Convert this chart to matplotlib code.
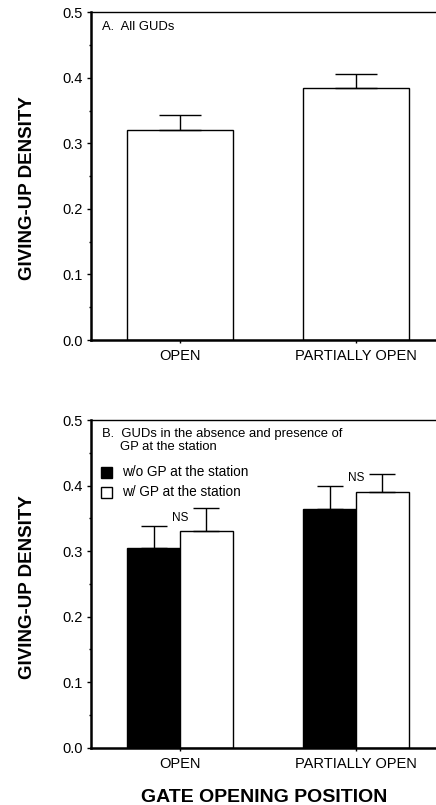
import matplotlib
matplotlib.use("Agg")
import matplotlib.pyplot as plt
from matplotlib.ticker import MultipleLocator
from matplotlib.patches import Rectangle

plt.rcParams['font.family'] = ['Liberation Sans', 'DejaVu Sans']

categories = ["OPEN", "PARTIALLY OPEN"]
# Panel A: all GUDs
a_means = [0.320, 0.384]
a_err = [0.024, 0.022]
# Panel B: without / with GP at the station
b_without = [0.304, 0.364]
b_without_err = [0.034, 0.035]
b_with = [0.331, 0.390]
b_with_err = [0.034, 0.027]
series_labels = ["w/o GP at the station", "w/ GP at the station"]
yticks = [0.0, 0.1, 0.2, 0.3, 0.4, 0.5]
ytick_labels = ["0.0", "0.1", "0.2", "0.3", "0.4", "0.5"]

W, H = 436, 805
fig = plt.figure(figsize=(W / 100, H / 100), dpi=100)

left = 91 / W
right_px = 445
axw = (right_px - 91) / W
axA = fig.add_axes([left, 1 - 340 / H, axw, (340 - 12.3) / H])
axB = fig.add_axes([left, 1 - 747.7 / H, axw, (747.7 - 420) / H])

x = [0, 1]

def style(ax, label_y):
    ax.set_ylim(0, 0.5)
    ax.set_xlim(-0.506, 1.506)
    ax.set_yticks(yticks)
    ax.set_yticklabels(ytick_labels, fontsize=10.5)
    ax.yaxis.set_minor_locator(MultipleLocator(0.05))
    ax.set_xticks(x)
    ax.set_xticklabels(categories, fontsize=10.5)
    ax.tick_params(axis='y', which='major', length=3, width=1, direction='out', pad=3)
    ax.tick_params(axis='y', which='minor', length=1.5, width=1, direction='out')
    ax.tick_params(axis='x', which='major', length=2.5, width=1, direction='out', pad=4)
    ax.spines['left'].set_linewidth(1.8)
    ax.spines['bottom'].set_linewidth(1.8)
    ax.spines['top'].set_linewidth(1.0)
    ax.spines['right'].set_visible(False)
    ax.set_ylabel("GIVING-UP DENSITY", fontsize=13.5, fontweight='bold')
    ax.yaxis.set_label_coords(-0.154, label_y)

# Panel A
axA.bar(x, a_means, width=0.6, color='white', edgecolor='black', linewidth=1.0, zorder=2)
axA.errorbar(x, a_means, yerr=[[0, 0], a_err], fmt='none', ecolor='black',
             elinewidth=1.0, capsize=21.5 * 0.72, capthick=1.0, zorder=3)
style(axA, 0.465)
axA.text(0.030, 0.954, "A.  All GUDs", transform=axA.transAxes, fontsize=9.4,
         ha='left', va='center')

# Panel B
bw = 0.3
xb_without = [xi - bw / 2 for xi in x]
xb_with = [xi + bw / 2 for xi in x]
axB.bar(xb_without, b_without, width=bw, color='black', edgecolor='black', linewidth=1.0, zorder=2)
axB.bar(xb_with, b_with, width=bw, color='white', edgecolor='black', linewidth=1.0, zorder=2)
axB.errorbar(xb_without, b_without, yerr=[[0, 0], b_without_err], fmt='none', ecolor='black',
             elinewidth=1.0, capsize=13 * 0.72, capthick=1.0, zorder=3)
axB.errorbar(xb_with, b_with, yerr=[[0, 0], b_with_err], fmt='none', ecolor='black',
             elinewidth=1.0, capsize=13 * 0.72, capthick=1.0, zorder=3)
for xi, m, e in zip(x, b_without, b_without_err):
    axB.text(xi, m + e + 0.012, "NS", fontsize=8.5, ha='center', va='center')
style(axB, 0.489)
axB.text(0.030, 0.958, "B.  GUDs in the absence and presence of", transform=axB.transAxes,
         fontsize=9.4, ha='left', va='center')
axB.text(0.082, 0.919, "GP at the station", transform=axB.transAxes,
         fontsize=9.4, ha='left', va='center')

# legend drawn as patches + text in axes coordinates
leg_colors = ['black', 'white']
leg_y = [0.840, 0.779]
for col, yc, lab in zip(leg_colors, leg_y, series_labels):
    axB.add_patch(Rectangle((0.0274, yc - 0.0168), 0.032, 0.0336, transform=axB.transAxes,
                            facecolor=col, edgecolor='black', linewidth=1.0, zorder=4))
    axB.text(0.0876, yc, lab, transform=axB.transAxes, fontsize=9.8, ha='left', va='center')

axB.set_xlabel("GATE OPENING POSITION", fontsize=14, fontweight='bold')
axB.xaxis.label.set_va('center')
axB.xaxis.set_label_coords(0.49, -0.151)

fig.savefig("out.png", dpi=100)
